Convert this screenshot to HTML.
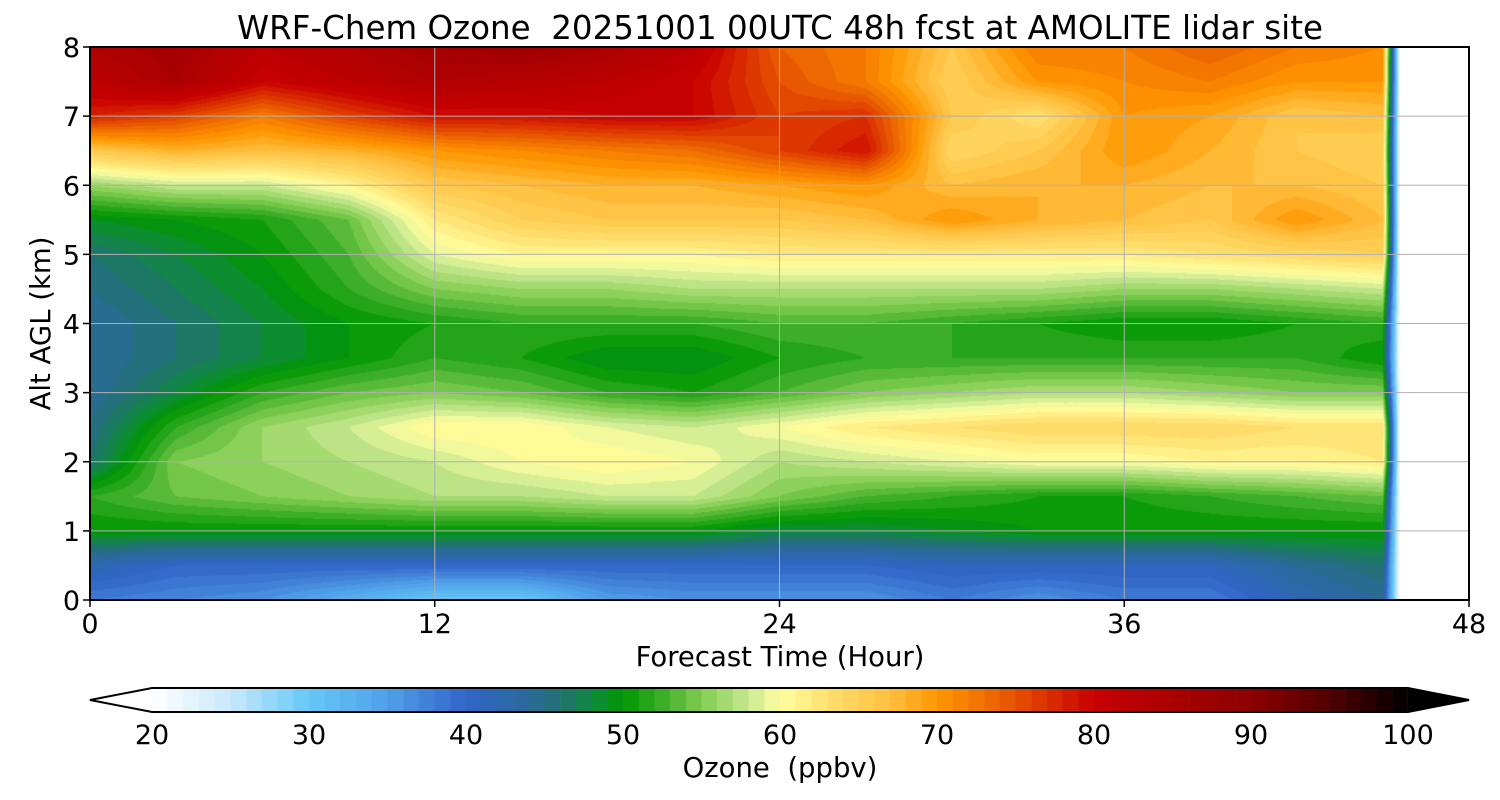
<!DOCTYPE html>
<html><head><meta charset="utf-8"><style>
body{margin:0;background:#fff;width:1500px;height:800px;overflow:hidden;font-family:"Liberation Sans","DejaVu Sans",sans-serif}
#wrap{position:relative;width:1500px;height:800px}
canvas{position:absolute;left:0;top:0}
svg{position:absolute;left:0;top:0}
text{font-family:"DejaVu Sans","Liberation Sans",sans-serif;fill:#000;white-space:pre}
</style></head><body>
<div id="wrap">
<canvas id="cv" width="1500" height="800"></canvas>
<svg id="sv" width="1500" height="800"></svg>
</div>
<script>
const times=[0,3,6,9,12,15,18,21,24,27,30,33,36,39,42,45,45.6];
const alts=[0,0.5,1,1.5,2,2.5,3,3.5,4,4.5,5,5.5,6,6.5,7,7.5,8];
const ozone=[
[38,37,36,33,30,30,35,36,36,36,38,36,38,38,42,44,20],
[42,40,40,40,40,40,40,40,40,40,41,41,41,41,44,46,20],
[50,50,50,50,50,50,50,50,48,48,49,50,50,50,50,50,20],
[52,54,55,56,57,57,58,58,55,53,52,51,51,52,53,54,20],
[46,55,56,57,58,60,61,60,57,58,59,60,60,61,61,62,20],
[45,52,56,58,61,61,59,58,60,62,63,64,64,64,63,63,20],
[44,48,52,54,55,54,52,51,53,55,56,57,57,56,55,55,20],
[44,46,48,50,52,51,49,49,51,52,52,52,52,52,52,50,20],
[44,46,48,50,51,52,52,52,53,53,52,51,50,50,51,52,20],
[45,47,49,52,55,56,56,57,57,57,57,57,56,56,57,58,20],
[46,48,50,53,59,61,61,61,62,62,62,62,62,63,64,65,20],
[49,50,51,54,62,65,66,66,66,67,70,68,67,66,70,67,20],
[56,58,58,61,66,67,68,68,69,70,67,68,68,67,67,66,20],
[66,68,67,68,70,71,72,73,76,79,64,66,70,68,66,65,20],
[78,76,72,76,79,79,80,80,76,77,66,63,70,69,66,67,20],
[82,85,80,82,84,83,82,80,75,72,65,70,71,72,70,70,20],
[84,86,82,84,86,87,85,82,74,72,66,72,72,74,72,71,20]];
const xTicks=[0,12,24,36,48];
const yTicks=[0,1,2,3,4,5,6,7,8];
const cbTicks=[20,30,40,50,60,70,80,90,100];

const L=90,R=1469,T=47,B=600;
const xs=t=>L+(t/48)*(R-L);
const ys=a=>B-(a/8)*(B-T);
const cbL=152,cbR=1408,cbT=688,cbB=712;
const cbx=v=>cbL+(v-20)/80*(cbR-cbL);

const stops=[[20,'#ffffff'],[25,'#c8e8fa'],[30,'#64c8f8'],[35,'#50a0e8'],[40,'#3264c8'],[44,'#2a6a9a'],[46,'#207070'],[48,'#108a40'],[50,'#009600'],[52,'#30a820'],[55,'#80cc50'],[58,'#c8e890'],[60,'#ffffa0'],[63,'#ffe070'],[67,'#ffc040'],[70,'#ff9600'],[73,'#f07000'],[76,'#e04000'],[80,'#c80000'],[90,'#8c0000'],[95,'#500000'],[100,'#000000']];
const hex=h=>[parseInt(h.substr(1,2),16),parseInt(h.substr(3,2),16),parseInt(h.substr(5,2),16)];
function cmap(v){v=Math.max(20,Math.min(100,v));
 for(let i=0;i<stops.length-1;i++){const[a,ca]=stops[i],[b,cb]=stops[i+1];
  if(v<=b){const f=(v-a)/(b-a),A=hex(ca),Bc=hex(cb);return A.map((x,k)=>Math.round(x+(Bc[k]-x)*f));}}
 return [0,0,0];}

const cv=document.getElementById('cv'),ctx=cv.getContext('2d');
const img=ctx.createImageData(R-L,B-T);
const tMax=times[times.length-1];
for(let py=0;py<B-T;py++){
 const a=(B-(T+py+0.5))/(B-T)*8;
 let j=0;while(j<alts.length-2&&alts[j+1]<a)j++;
 const fy=Math.max(0,Math.min(1,(a-alts[j])/(alts[j+1]-alts[j])));
 for(let px=0;px<R-L;px++){
  const t=(px+0.5)/(R-L)*48;const idx=(py*(R-L)+px)*4;
  let c=[255,255,255];
  if(t<=tMax){let i=0;while(i<times.length-2&&times[i+1]<t)i++;
   const fx=(t-times[i])/(times[i+1]-times[i]);
   const v=(ozone[j][i]*(1-fx)+ozone[j][i+1]*fx)*(1-fy)+(ozone[j+1][i]*(1-fx)+ozone[j+1][i+1]*fx)*fy;
   c=cmap(Math.floor(v)+0.5);}
  img.data[idx]=c[0];img.data[idx+1]=c[1];img.data[idx+2]=c[2];img.data[idx+3]=255;}}
ctx.putImageData(img,L,T);

for(let v=20;v<100;v++){const c=cmap(v+0.5);ctx.fillStyle=`rgb(${c})`;ctx.fillRect(cbx(v),cbT,cbx(v+1)-cbx(v)+0.6,cbB-cbT);}

const sv=document.getElementById('sv');const NS='http://www.w3.org/2000/svg';
function el(tag,attrs,txt){const e=document.createElementNS(NS,tag);for(const k in attrs)e.setAttribute(k,attrs[k]);if(txt!=null)e.textContent=txt;sv.appendChild(e);return e;}

xTicks.forEach(t=>{
 const g=el('line',{x1:xs(t),x2:xs(t),y1:T,y2:B,stroke:'#b0b0b0','stroke-width':1});
 
 const tk=el('line',{x1:xs(t),x2:xs(t),y1:B,y2:B+7,stroke:'#000','stroke-width':1.5});
 
 const lb=el('text',{x:xs(t),y:B+33,'font-size':27,'text-anchor':'middle'},String(t));
 });
yTicks.forEach(a=>{
 const g=el('line',{x1:L,x2:R,y1:ys(a),y2:ys(a),stroke:'#b0b0b0','stroke-width':1});
 
 const tk=el('line',{x1:L-7,x2:L,y1:ys(a),y2:ys(a),stroke:'#000','stroke-width':1.5});
 
 const lb=el('text',{x:L-10,y:ys(a)+10,'font-size':27,'text-anchor':'end'},String(a));
 });
const fr=el('rect',{x:L,y:T,width:R-L,height:B-T,fill:'none',stroke:'#000','stroke-width':2});

const ti=el('text',{x:780,y:39,'font-size':32.5,'text-anchor':'middle'},'WRF-Chem Ozone\u00a0\u00a020251001 00UTC 48h fcst at AMOLITE lidar site');

const xt=el('text',{x:780,y:666,'font-size':27.5,'text-anchor':'middle'},'Forecast Time (Hour)');

const yt=el('text',{x:0,y:0,'font-size':27.5,'text-anchor':'middle',transform:`translate(50,${(T+B)/2}) rotate(-90)`},'Alt AGL (km)');


const la=el('polygon',{points:`${cbL},${cbT} 90,${(cbT+cbB)/2} ${cbL},${cbB}`,fill:'#fff',stroke:'none'});

const ra=el('polygon',{points:`${cbR},${cbT} 1469,${(cbT+cbB)/2} ${cbR},${cbB}`,fill:'#000'});

const co=el('polygon',{points:`${cbL},${cbT} ${cbR},${cbT} 1469,${(cbT+cbB)/2} ${cbR},${cbB} ${cbL},${cbB} 90,${(cbT+cbB)/2}`,fill:'none',stroke:'#000','stroke-width':2});

cbTicks.forEach(v=>{
 const lb=el('text',{x:cbx(v),y:744,'font-size':27,'text-anchor':'middle'},String(v));
 });
const ct=el('text',{x:780,y:777,'font-size':27.5,'text-anchor':'middle'},'Ozone\u00a0\u00a0(ppbv)');

</script>
</body></html>
